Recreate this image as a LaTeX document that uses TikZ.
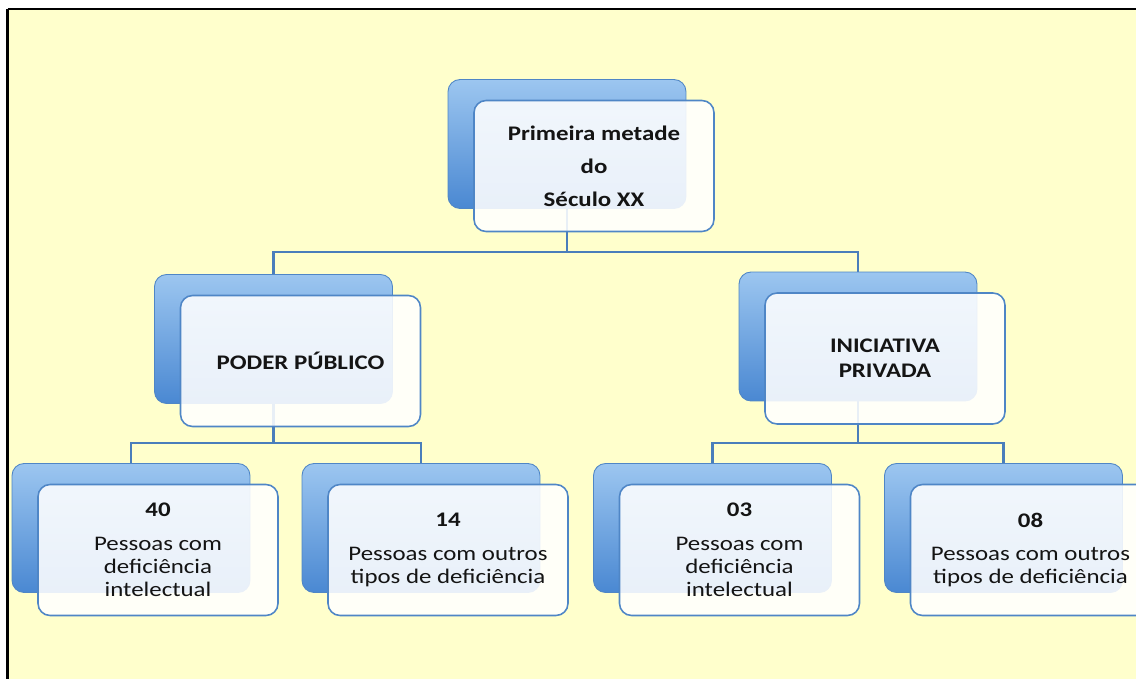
\documentclass[tikz,border=0pt]{standalone}
\usepackage{fontspec}
\setmainfont{Carlito}[FakeStretch=1.2]
\usetikzlibrary{backgrounds}
\definecolor{paper}{HTML}{FFFFCC}
\definecolor{boxtop}{HTML}{9CC6F0}
\definecolor{boxbot}{HTML}{4A88D2}
\definecolor{boxedge}{HTML}{4F86C6}
\definecolor{linkblue}{HTML}{4A7EBB}
\definecolor{inktext}{HTML}{141414}

\begin{document}
\begin{tikzpicture}[x=0.02cm,y=-0.02cm,
  backbox/.style={rounded corners=0.24cm,minimum width=4.76cm,minimum height=2.58cm,
    top color=boxtop,bottom color=boxbot,draw=boxedge,line width=0.5pt},
  frontbox/.style={rounded corners=0.24cm,minimum width=4.8cm,minimum height=2.62cm,
    draw=boxedge,line width=0.9pt,fill=white,fill opacity=0.88,text opacity=1,
    text=inktext,align=center,font=\fontsize{11.8}{13.3}\selectfont},
  headbox/.style={frontbox,font=\fontsize{11.8}{13.3}\selectfont\bfseries},
  conn/.style={linkblue,line width=1.4pt}]
  \useasboundingbox (0,0) rectangle (1136,679);
  \clip (0,0) rectangle (1136,679);
  % top level
  \node[backbox] (topb) at (567,144) {};
  \node[headbox] (topf) at ([shift={(27,22)}]topb.center)
    {Primeira metade\\[5.5pt]do\\[5.5pt]Século XX};
  % second level
  \node[backbox] (ppb) at (273.5,339) {};
  \node[headbox] (ppf) at ([shift={(27,22)}]ppb.center) {PODER PÚBLICO};
  \node[backbox] (ipb) at (858,336.5) {};
  \node[headbox] (ipf) at ([shift={(27,22)}]ipb.center) {INICIATIVA\\[1pt]PRIVADA};
  % third level
  \foreach \nm/\x/\txt in {a/131/{\textbf{40}\\[5.8pt]Pessoas com\\deficiência\\intelectual},
      b/421/{\textbf{14}\\[5.8pt]Pessoas com outros\\tipos de deficiência},
      c/712.5/{\textbf{03}\\[5.8pt]Pessoas com\\deficiência\\intelectual},
      d/1003.5/{\textbf{08}\\[5.8pt]Pessoas com outros\\tipos de deficiência}} {
    \node[backbox] (\nm b) at (\x,528) {};
    \node[frontbox] (\nm f) at ([shift={(27,22)}]\nm b.center) {\txt};
  }
  \coordinate (j1) at (567,252);
  \coordinate (j2) at (273.5,443);
  \coordinate (j3) at (858,443);
  \begin{pgfonlayer}{background}
    \fill[paper] (8,9) rectangle (1136,679);
    \draw[line width=1.6pt] (7.5,679) -- (7.5,9);
    \draw[line width=0.9pt] (7.5,9) -- (1136,9);
    \draw[conn] (topb.south) -- (j1) -| (ppb.north);
    \draw[conn] (j1) -| (ipb.north);
    \draw[conn] (ppb.south) -- (j2) -| (ab.north);
    \draw[conn] (j2) -| (bb.north);
    \draw[conn] (ipb.south) -- (j3) -| (cb.north);
    \draw[conn] (j3) -| (db.north);
  \end{pgfonlayer}
\end{tikzpicture}
\end{document}
